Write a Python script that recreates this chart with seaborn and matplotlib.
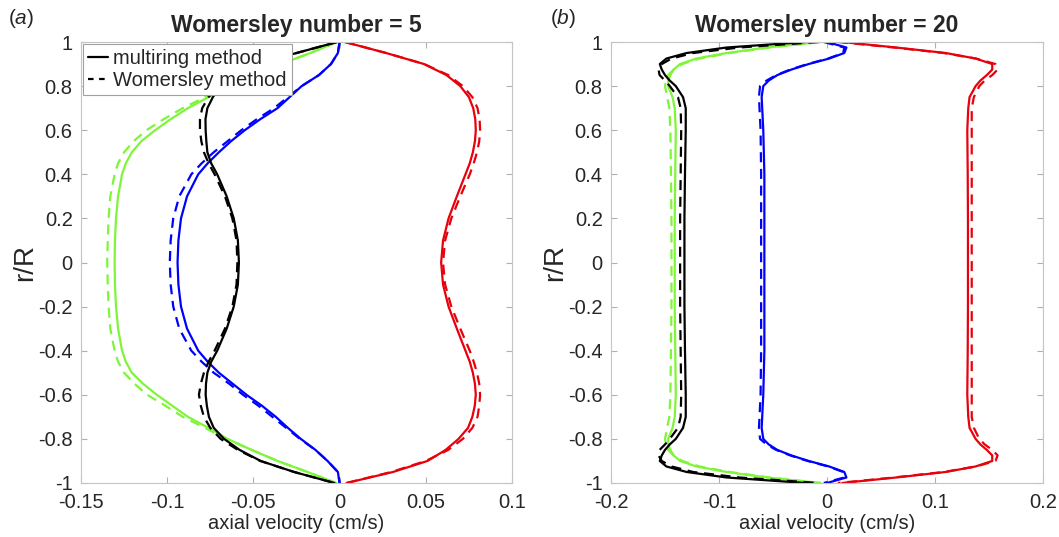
import numpy as np
import pandas as pd
import matplotlib
matplotlib.use("Agg")
import matplotlib.pyplot as plt
from matplotlib.lines import Line2D
import seaborn as sns

# ---------------- data ----------------
# Panel (a): Womersley number = 5
r_a = [1, 0.95, 0.9, 0.85, 0.8, 0.75, 0.7, 0.65, 0.6, 0.55, 0.5, 0.45, 0.4, 0.3, 0.2, 0.1, 0,
       -0.1, -0.2, -0.3, -0.4, -0.45, -0.5, -0.55, -0.6, -0.65, -0.7, -0.75, -0.8, -0.85, -0.9, -0.95, -1]

a_red_solid = [0.003, 0.027, 0.049, 0.062, 0.070, 0.075, 0.0775, 0.0787, 0.0790, 0.0785, 0.0773, 0.0755, 0.0730, 0.0680, 0.0632, 0.0600, 0.0589,
               0.0600, 0.0632, 0.0680, 0.0730, 0.0755, 0.0773, 0.0785, 0.0790, 0.0784, 0.0770, 0.0745, 0.0690, 0.0615, 0.0510, 0.031, 0.004]
a_red_dash = [0.003, 0.027, 0.049, 0.063, 0.0715, 0.077, 0.0800, 0.0812, 0.0815, 0.0810, 0.0797, 0.0778, 0.0755, 0.0700, 0.0648, 0.0612, 0.0600,
              0.0612, 0.0648, 0.0700, 0.0755, 0.0778, 0.0797, 0.0810, 0.0815, 0.0810, 0.0800, 0.0770, 0.0715, 0.0630, 0.0500, 0.030, 0.004]
a_blue_solid = [0.000, -0.001, -0.005, -0.012, -0.022, -0.029, -0.036, -0.046, -0.055, -0.063, -0.070, -0.0765, -0.082, -0.0885, -0.092, -0.0935, -0.094,
                -0.0935, -0.092, -0.0885, -0.082, -0.0765, -0.070, -0.062, -0.054, -0.045, -0.037, -0.030, -0.0225, -0.014, -0.007, -0.001, 0.000]
a_blue_dash = [0.000, -0.001, -0.005, -0.012, -0.022, -0.030, -0.038, -0.048, -0.057, -0.065, -0.073, -0.080, -0.086, -0.093, -0.0965, -0.098, -0.0985,
               -0.098, -0.0965, -0.093, -0.086, -0.080, -0.073, -0.064, -0.056, -0.047, -0.039, -0.031, -0.023, -0.014, -0.007, -0.001, 0.000]
a_black_solid = [-0.0015, -0.025, -0.049, -0.062, -0.069, -0.0735, -0.0767, -0.0778, -0.0777, -0.0773, -0.0767, -0.0745, -0.0710, -0.0655, -0.0614, -0.0590, -0.0584,
                 -0.0590, -0.0614, -0.0655, -0.0710, -0.0745, -0.0767, -0.0775, -0.0777, -0.0770, -0.0758, -0.0730, -0.0670, -0.0580, -0.0458, -0.0264, -0.003]
a_black_dash = [-0.0015, -0.025, -0.049, -0.063, -0.0705, -0.0760, -0.0797, -0.0810, -0.0810, -0.0802, -0.0787, -0.0760, -0.0725, -0.0665, -0.0622, -0.0598, -0.0593,
                -0.0598, -0.0622, -0.0665, -0.0725, -0.0760, -0.0787, -0.0805, -0.0816, -0.0805, -0.0787, -0.0750, -0.0690, -0.0590, -0.0460, -0.0264, -0.003]
a_green_solid = [-0.0015, -0.017, -0.034, -0.050, -0.063, -0.076, -0.088, -0.098, -0.107, -0.115, -0.1205, -0.1240, -0.1262, -0.1285, -0.1297, -0.1303, -0.1305,
                 -0.1303, -0.1297, -0.1285, -0.1262, -0.1240, -0.1205, -0.114, -0.106, -0.097, -0.088, -0.076, -0.065, -0.051, -0.036, -0.0186, -0.002]
a_green_dash = [-0.0015, -0.017, -0.034, -0.050, -0.064, -0.078, -0.091, -0.102, -0.112, -0.1195, -0.1250, -0.1285, -0.1305, -0.1330, -0.1340, -0.1345, -0.1348,
                -0.1345, -0.1340, -0.1330, -0.1305, -0.1285, -0.1250, -0.119, -0.1116, -0.101, -0.091, -0.078, -0.066, -0.051, -0.036, -0.0186, -0.002]

# Panel (b): Womersley number = 20
r_b = [1, 0.975, 0.95, 0.925, 0.9, 0.875, 0.85, 0.825, 0.8, 0.75, 0.7, 0.6, 0.4, 0.2, 0,
       -0.2, -0.4, -0.6, -0.7, -0.75, -0.8, -0.825, -0.85, -0.875, -0.9, -0.925, -0.95, -0.975, -1]

b_black_solid = [-0.020, -0.093, -0.130, -0.1487, -0.1548, -0.153, -0.150, -0.1456, -0.140, -0.1333, -0.1308, -0.1308, -0.1315, -0.1320, -0.1320,
                 -0.1320, -0.1315, -0.1308, -0.1308, -0.1333, -0.140, -0.1456, -0.150, -0.153, -0.1548, -0.1487, -0.130, -0.093, -0.020]
b_black_dash = [-0.008, -0.081, -0.124, -0.144, -0.153, -0.156, -0.155, -0.150, -0.1456, -0.138, -0.1355, -0.135, -0.1355, -0.136, -0.136,
                -0.136, -0.1355, -0.135, -0.1355, -0.138, -0.1456, -0.150, -0.155, -0.156, -0.153, -0.144, -0.124, -0.081, -0.008]
b_green_solid = [-0.006, -0.056, -0.093, -0.121, -0.136, -0.142, -0.145, -0.147, -0.147, -0.143, -0.141, -0.140, -0.1405, -0.141, -0.141,
                 -0.141, -0.1405, -0.140, -0.141, -0.143, -0.147, -0.147, -0.145, -0.142, -0.136, -0.121, -0.093, -0.056, -0.006]
b_green_dash = [-0.006, -0.053, -0.090, -0.118, -0.134, -0.142, -0.147, -0.149, -0.150, -0.148, -0.146, -0.145, -0.1445, -0.144, -0.144,
                -0.144, -0.1445, -0.145, -0.146, -0.148, -0.150, -0.149, -0.147, -0.142, -0.134, -0.118, -0.090, -0.053, -0.006]
b_blue_solid = [0.000, 0.018, 0.016, 0.002, -0.017, -0.033, -0.046, -0.054, -0.059, -0.0605, -0.060, -0.059, -0.058, -0.058, -0.058,
                -0.058, -0.058, -0.059, -0.060, -0.0605, -0.059, -0.054, -0.046, -0.033, -0.017, 0.002, 0.016, 0.018, 0.000]
b_blue_dash = [-0.003, 0.016, 0.015, 0.001, -0.018, -0.034, -0.047, -0.056, -0.062, -0.063, -0.0625, -0.0615, -0.061, -0.061, -0.061,
               -0.061, -0.061, -0.0615, -0.0625, -0.063, -0.062, -0.056, -0.047, -0.034, -0.018, 0.001, 0.015, 0.016, -0.003]
b_red_solid = [0.014, 0.064, 0.110, 0.1376, 0.153, 0.153, 0.148, 0.142, 0.1376, 0.132, 0.1308, 0.1299, 0.1303, 0.1305, 0.1305,
               0.1305, 0.1303, 0.1299, 0.1308, 0.132, 0.1376, 0.142, 0.148, 0.153, 0.153, 0.1376, 0.110, 0.064, 0.014]
b_red_dash = [0.010, 0.062, 0.108, 0.138, 0.156, 0.158, 0.153, 0.146, 0.141, 0.136, 0.134, 0.134, 0.134, 0.134, 0.134,
              0.134, 0.134, 0.134, 0.134, 0.136, 0.141, 0.146, 0.153, 0.158, 0.156, 0.138, 0.108, 0.062, 0.010]

titles = ["Womersley number = 5", "Womersley number = 20"]
panel_tags = ["a", "b"]
xticks_a = [-0.15, -0.1, -0.05, 0, 0.05, 0.1]
xticks_b = [-0.2, -0.1, 0, 0.1, 0.2]
yticks = [-1, -0.8, -0.6, -0.4, -0.2, 0, 0.2, 0.4, 0.6, 0.8, 1]
legend_labels = ["multiring method", "Womersley method"]

# ---------------- style ----------------
sns.set_theme(style="white")
plt.rcParams["font.family"] = ["Liberation Sans", "DejaVu Sans"]
plt.rcParams["mathtext.fontset"] = "custom"
plt.rcParams["mathtext.it"] = "Liberation Sans:italic"
plt.rcParams["mathtext.rm"] = "Liberation Sans"
plt.rcParams["axes.unicode_minus"] = False

colors = {"red": "#e8000b", "blue": "#0000ff", "black": "#000000", "green": "#7ff53a"}
LW = 1.6
DASH = (0, (4.5, 3.0))

fig = plt.figure(figsize=(10.59, 5.37), dpi=100)
ax_a = fig.add_axes([81 / 1059, 1 - 483 / 537, 431 / 1059, 441 / 537])
ax_b = fig.add_axes([611 / 1059, 1 - 483 / 537, 432 / 1059, 441 / 537])


def fmt(v):
    return f"{v:g}"


def draw(ax, r, series):
    for name, vals, dashed in series:
        sns.lineplot(x=vals, y=r, ax=ax, sort=False, estimator=None,
                     color=colors[name], lw=LW,
                     linestyle=DASH if dashed else "-", legend=False)


draw(ax_a, r_a, [
    ("red", a_red_dash, True), ("red", a_red_solid, False),
    ("blue", a_blue_dash, True), ("blue", a_blue_solid, False),
    ("green", a_green_dash, True), ("green", a_green_solid, False),
    ("black", a_black_dash, True), ("black", a_black_solid, False),
])
draw(ax_b, r_b, [
    ("red", b_red_dash, True), ("red", b_red_solid, False),
    ("blue", b_blue_dash, True), ("blue", b_blue_solid, False),
    ("green", b_green_dash, True), ("green", b_green_solid, False),
    ("black", b_black_dash, True), ("black", b_black_solid, False),
])

for ax, xt, title in [(ax_a, xticks_a, titles[0]), (ax_b, xticks_b, titles[1])]:
    ax.set_xlim(xt[0], xt[-1])
    ax.set_ylim(-1, 1)
    ax.set_xticks(xt)
    ax.set_xticklabels([fmt(v) for v in xt])
    ax.set_yticks(yticks)
    ax.set_yticklabels([fmt(v) for v in yticks])
    ax.tick_params(direction="in", length=4, width=0.8, color="#b0b0b0",
                   labelsize=14.5, labelcolor="#262626",
                   top=True, right=True, bottom=True, left=True)
    ax.tick_params(axis="x", pad=7)
    ax.tick_params(axis="y", pad=6)
    for sp in ax.spines.values():
        sp.set_visible(True)
        sp.set_color("#c4c4c4")
        sp.set_linewidth(0.8)
    ax.set_xlabel("axial velocity (cm/s)", fontsize=14.5, color="#262626")
    ax.xaxis.set_label_coords(0.5, -0.071)
    ax.set_ylabel("r/R", fontsize=20, color="#262626", labelpad=0)
    ax.set_title(title, fontsize=16.5, fontweight="bold", pad=7)

fig.text(8 / 1059, 1 - 18 / 537, r"($\mathit{a}$)", fontsize=15, va="center", ha="left")
fig.text(550 / 1059, 1 - 18 / 537, r"($\mathit{b}$)", fontsize=15, va="center", ha="left")

handles = [Line2D([], [], color="black", lw=LW, linestyle="-"),
           Line2D([], [], color="black", lw=LW, linestyle=(0, (2.5, 2.5)))]
leg = ax_a.legend(handles, legend_labels, loc="upper left", fontsize=14.5,
                  frameon=True, fancybox=False, framealpha=1, edgecolor="#a0a0a0",
                  handlelength=1.0, handletextpad=0.25, borderpad=0.25,
                  labelspacing=0.15, borderaxespad=0.1)
leg.get_frame().set_linewidth(0.8)

fig.savefig("out.png", dpi=100)
